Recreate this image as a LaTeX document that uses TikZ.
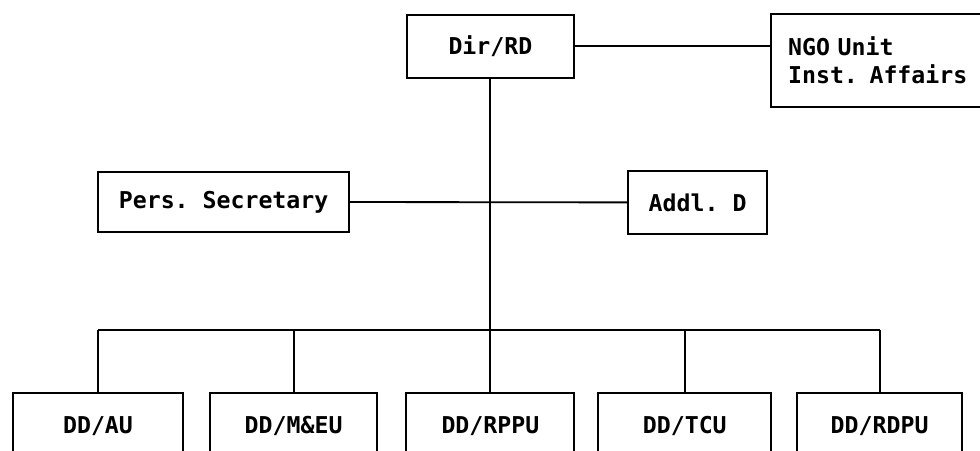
\documentclass[tikz,border=0pt]{standalone}
\usepackage{fontspec}
\setmonofont{DejaVu Sans Mono}[WordSpace={1,0,0}]
\usetikzlibrary{positioning,calc}

\begin{document}
\begin{tikzpicture}[
    line width=1.3pt,
    unit/.style={draw, line width=1.3pt, inner sep=0pt, font=\ttfamily\bfseries\fontsize{16.5}{19.5}\selectfont},
    subunit/.style={unit, anchor=north, minimum height=1.65cm}
  ]
    \useasboundingbox (0,0) rectangle (24.5,-11.25);

    % Top: director and NGO unit
    \node[unit, minimum width=4.18cm, minimum height=1.58cm] (dir) at (12.26,-1.16) {Dir/RD};
    \node[unit, anchor=west, minimum height=2.33cm, text width=5.2cm, align=left, inner xsep=0.43cm] (ngo) at (19.25,-1.51) {NGO Unit\\Inst. Affairs};

    % Middle row
    \node[unit, minimum width=6.28cm, minimum height=1.5cm] (pers) at (5.59,-5.05) {Pers. Secretary};
    \node[unit, minimum width=3.48cm, minimum height=1.58cm] (addl) at (17.44,-5.06) {Addl. D};

    % Deputy directors
    \node[subunit, minimum width=4.25cm] (au) at (2.45,-9.8) {DD/AU};
    \node[subunit, minimum width=4.18cm] (meu) at (7.34,-9.8) {DD/M\&EU};
    \node[subunit, minimum width=4.2cm] (rppu) at (12.26,-9.8) {DD/RPPU};
    \node[subunit, minimum width=4.33cm] (tcu) at (17.12,-9.8) {DD/TCU};
    \node[subunit, minimum width=4.13cm] (rdpu) at (21.99,-9.8) {DD/RDPU};

    % Connectors
    \coordinate (bus) at (12.26,-8.25);
    \draw (dir.east) -- (dir.east -| ngo.west);
    \draw (dir.south) -- (rppu.north);
    \draw (pers.east) -- (addl.west);
    \draw (au.north |- bus) -- (rdpu.north |- bus);
    \foreach \n in {au,meu,tcu,rdpu}
      \draw (\n.north) -- (\n.north |- bus);
\end{tikzpicture}
\end{document}
